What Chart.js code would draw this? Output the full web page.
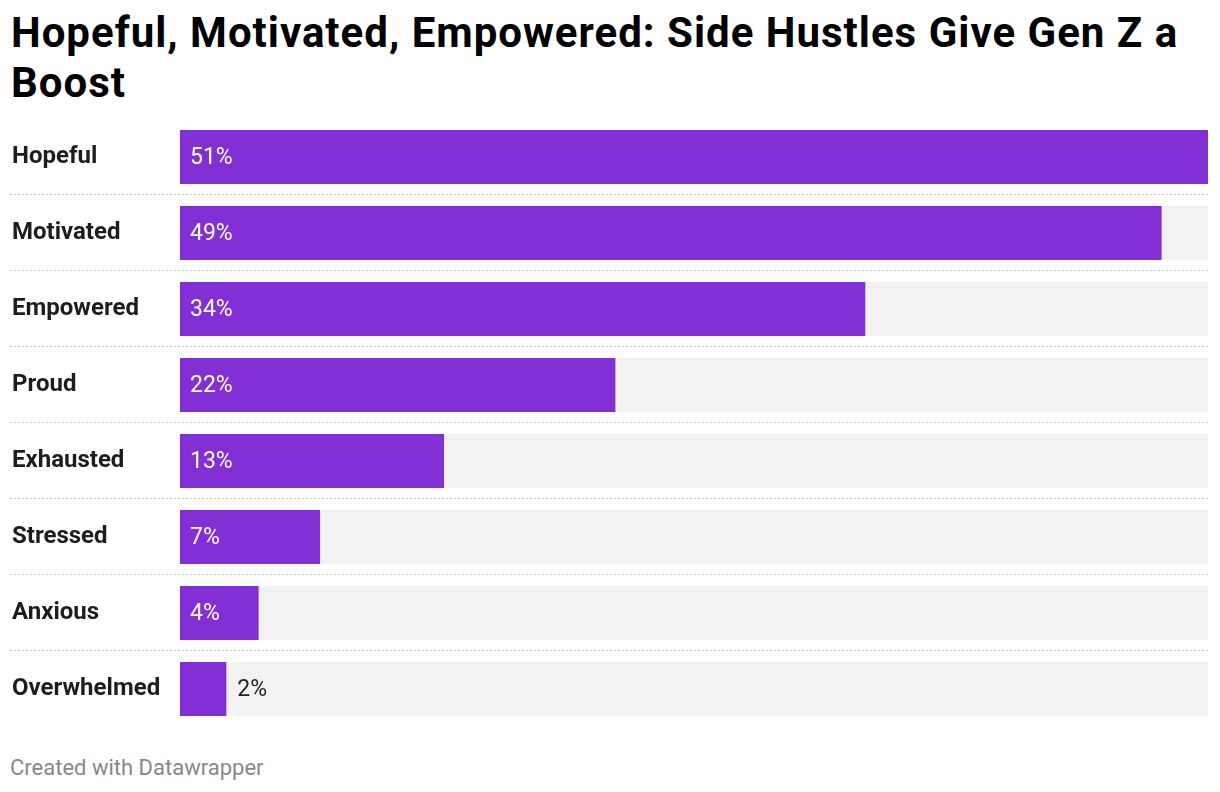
<!DOCTYPE html>
<html>
<head>
<meta charset="utf-8">
<script src="https://cdn.jsdelivr.net/npm/chart.js@4"></script>
<style>
  body { margin: 0; background: #fff; font-family: Roboto, sans-serif; }
  #title { position: absolute; left: 11px; top: 8px; width: 1200px; margin: 0;
           font-size: 42px; line-height: 50px; font-weight: 700; color: #000; letter-spacing: 1px; }
  #wrap { position: absolute; left: 0; top: 119px; width: 1220px; height: 608px; }
  #foot { position: absolute; left: 10px; top: 757px; font-size: 22px; line-height: 22px; color: #888; }
</style>
</head>
<body>
<h1 id="title">Hopeful, Motivated, Empowered: Side Hustles Give Gen Z a Boost</h1>
<div id="wrap"><canvas id="bar-chart"></canvas></div>
<div id="foot">Created with Datawrapper</div>
<script>
var feelings = ["Hopeful", "Motivated", "Empowered", "Proud", "Exhausted", "Stressed", "Anxious", "Overwhelmed"];
var shares = [51, 48.7, 34, 21.6, 13.1, 6.95, 3.9, 2.3];
var shareLabels = ["51%", "49%", "34%", "22%", "13%", "7%", "4%", "2%"];
var maxShare = 51;
var fullRow = feelings.map(function () { return maxShare; });

// dotted lines between rows, from the label column to the right edge
var rowLines = {
  id: 'rowLines',
  beforeDatasetsDraw: function (chart) {
    var ctx = chart.ctx, y = chart.scales.y;
    ctx.save();
    ctx.strokeStyle = '#cccccc';
    ctx.lineWidth = 1;
    ctx.setLineDash([2, 2]);
    for (var i = 0; i < feelings.length - 1; i++) {
      var py = Math.round((y.getPixelForValue(i) + y.getPixelForValue(i + 1)) / 2) - 0.5;
      ctx.beginPath();
      ctx.moveTo(10, py);
      ctx.lineTo(chart.chartArea.right, py);
      ctx.stroke();
    }
    ctx.restore();
  }
};

var valueLabels = {
  id: 'valueLabels',
  afterDatasetsDraw: function (chart) {
    var ctx = chart.ctx;
    var bars = chart.getDatasetMeta(0).data;
    ctx.save();
    ctx.font = '23px Roboto';
    ctx.textBaseline = 'middle';
    bars.forEach(function (bar, i) {
      var txt = shareLabels[i];
      var w = ctx.measureText(txt).width;
      if (bar.x - bar.base > w + 24) {
        ctx.fillStyle = '#ffffff';
        ctx.fillText(txt, bar.base + 10, bar.y + 1);
      } else {
        ctx.fillStyle = '#222222';
        ctx.fillText(txt, bar.x + 11, bar.y + 1);
      }
    });
    ctx.restore();
  }
};

new Chart(document.getElementById("bar-chart"), {
  type: 'bar',
  data: {
    labels: feelings,
    datasets: [{
        data: shares,
        backgroundColor: "#8230d6",
        grouped: false,
        order: 0,
        barPercentage: 1,
        categoryPercentage: 0.71
      }, {
        data: fullRow,
        backgroundColor: "#f2f2f2",
        grouped: false,
        order: 1,
        barPercentage: 1,
        categoryPercentage: 0.71
      }
    ]
  },
  options: {
    indexAxis: 'y',
    responsive: true,
    maintainAspectRatio: false,
    animation: false,
    layout: { padding: { left: 12, right: 12, top: 0, bottom: 0 } },
    plugins: {
      legend: { display: false },
      tooltip: { enabled: false }
    },
    scales: {
      x: { display: false, min: 0, max: maxShare },
      y: {
        grid: { display: false },
        border: { display: false },
        afterFit: function (s) { s.width = 168; s.paddingTop = 0; s.paddingBottom = 0; },
        ticks: {
          crossAlign: 'far',
          padding: 0,
          color: '#1d1d1d',
          font: { family: 'Roboto', size: 24, weight: 'bold' }
        }
      }
    }
  },
  plugins: [rowLines, valueLabels]
});
</script>
</body>
</html>
